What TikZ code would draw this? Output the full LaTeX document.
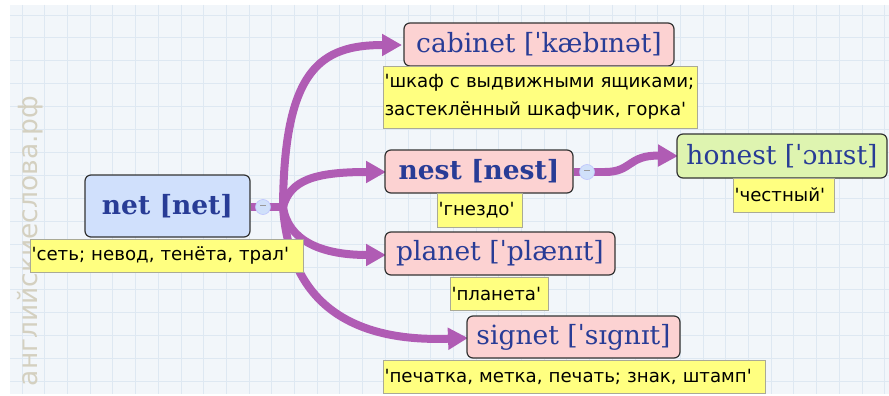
\documentclass[tikz,border=0pt]{standalone}
\usepackage{fontspec}
\setmainfont{DejaVu Serif}
\newfontfamily\trfont{DejaVu Sans}
\newfontfamily\wmfont{DejaVu Sans}
\usetikzlibrary{arrows.meta}
\definecolor{bgc}{RGB}{242,246,250}
\definecolor{gridc}{RGB}{222,232,242}
\definecolor{wordc}{RGB}{40,60,150}
\definecolor{pinkc}{RGB}{252,210,210}
\definecolor{bluec}{RGB}{208,224,252}
\definecolor{greenc}{RGB}{222,244,176}
\definecolor{yelc}{RGB}{255,255,128}
\definecolor{yelb}{RGB}{170,170,150}
\definecolor{arrc}{RGB}{176,92,180}
\definecolor{wmc}{RGB}{212,208,192}
\definecolor{circc}{RGB}{208,224,250}
\tikzset{
  wordbox/.style={draw=black!80, line width=1.2pt, rounded corners=6pt, inner sep=0pt, text=wordc, font=\fontsize{26.5}{28}\selectfont},
  trbox/.style={draw=yelb, fill=yelc, line width=0.8pt, inner xsep=1.5pt, inner ysep=0pt, text=black, font=\trfont\fontsize{18.2}{28}\selectfont, align=left},
  conn/.style={draw=arrc, line width=8pt, -{Triangle[length=20pt,width=21pt]}},
  stem/.style={draw=arrc, line width=8pt},
  collapse/.style={circle, draw=circc!70!blue!60, fill=circc, minimum size=15pt, inner sep=0pt, line width=0.6pt}
}
\begin{document}
\begin{tikzpicture}[x=1pt,y=-1pt]
\useasboundingbox (0,0) rectangle (889,396);
\fill[white] (0,0) rectangle (889,396);
\fill[bgc] (10,5) rectangle (889,394);
\begin{scope}
\clip (10,5) rectangle (889,394);
\foreach \x in {0,...,38} { \draw[gridc, line width=0.8pt] (22+22.7*\x,5) -- (22+22.7*\x,394); }
\foreach \y in {0,...,17} { \draw[gridc, line width=0.8pt] (10,15+22.9*\y) -- (889,15+22.9*\y); }
\end{scope}
% watermark
\node[rotate=90, text=wmc, font=\wmfont\fontsize{26.5}{28}\selectfont] (wm) at (30,241) {английскиеслова.рф};

% connectors first
\coordinate (jn) at (283,207);
\coordinate (hj) at (605,172);
\draw[conn] (jn) .. controls (284,70) and (320,45) .. (402,45);
\draw[conn] (jn) .. controls (290,180) and (315,172) .. (386,172);
\draw[conn] (jn) .. controls (288,240) and (320,255) .. (386,255);
\draw[conn] (jn) .. controls (290,310) and (360,342) .. (468,338);

% nodes
\node[wordbox, fill=bluec, minimum width=165pt, minimum height=62pt, font=\bfseries\fontsize{26.5}{28}\selectfont] (net) at (167.5,206) {net [net]};
\node[trbox, text width=270pt, minimum height=33pt] (nettr) at (166.5,255.5) {'сеть; невод, тенёта, трал'};

\draw[stem] (net.east |- jn) -- (jn);
\node[collapse] (c1) at (263,207) {\textcolor{black!40}{\rule[2.5pt]{6pt}{1pt}}};

\node[wordbox, fill=pinkc, minimum width=270pt, minimum height=43pt] (cab) at (539,44.5) {cabinet [ˈkæbɪnət]};
\node[trbox, text width=311pt, minimum height=62pt] (cabtr) at (540,97) {'шкаф с выдвижными ящиками;\\застеклённый шкафчик, горка'};

\node[wordbox, fill=pinkc, minimum width=188pt, minimum height=43pt, font=\bfseries\fontsize{26.5}{28}\selectfont] (nest) at (479,171.5) {nest [nest]};
\node[trbox, text width=82pt, minimum height=34pt] (nesttr) at (479.5,210) {'гнездо'};

\draw[stem] (nest.east |- hj) -- (hj);
\draw[conn] (hj) .. controls (632,172) and (628,155) .. (678,156);
\node[collapse] (c2) at (587,172) {\textcolor{black!40}{\rule[2.5pt]{6pt}{1pt}}};

\node[wordbox, fill=greenc, minimum width=210pt, minimum height=44pt] (hon) at (782,156) {honest [ˈɔnɪst]};
\node[trbox, text width=98pt, minimum height=34pt] (hontr) at (783.5,195) {'честный'};

\node[wordbox, fill=pinkc, minimum width=230pt, minimum height=43pt] (pla) at (500,253.5) {planet [ˈplænɪt]};
\node[trbox, text width=95pt, minimum height=33pt] (platr) at (499,293.5) {'планета'};

\node[wordbox, fill=pinkc, minimum width=213pt, minimum height=42pt] (sig) at (573.5,337) {signet [ˈsɪgnɪt]};
\node[trbox, text width=379pt, minimum height=33pt] (sigtr) at (574,376.5) {'печатка, метка, печать; знак, штамп'};
\end{tikzpicture}
\end{document}
